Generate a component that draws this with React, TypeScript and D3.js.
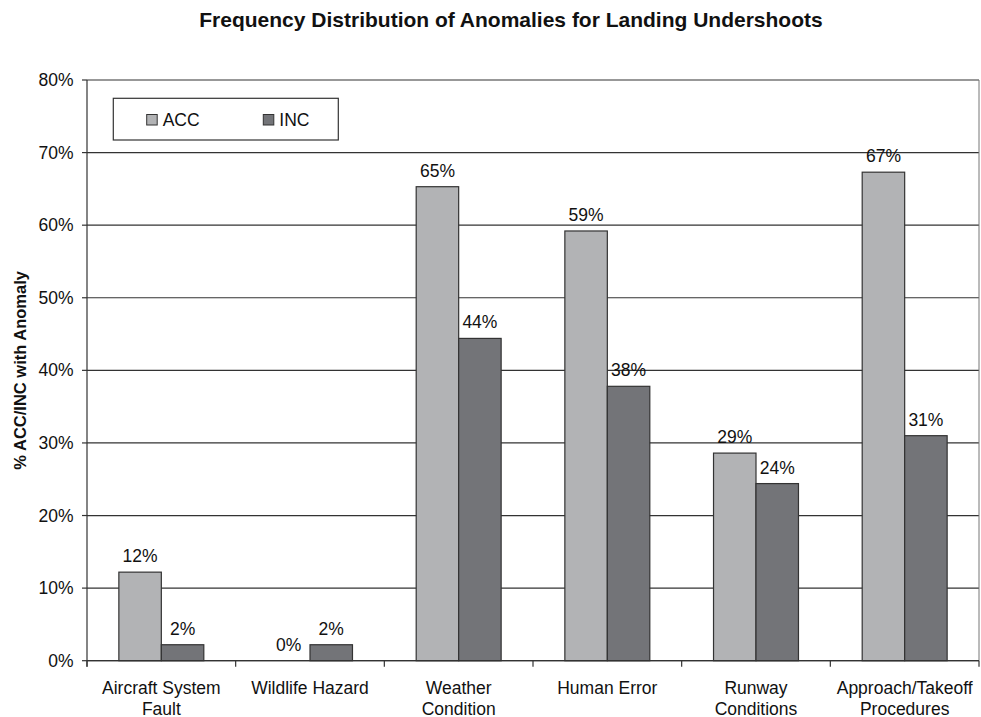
import React from "react";
import * as d3 from "d3";

const categories: string[][] = [
  ["Aircraft System", "Fault"],
  ["Wildlife Hazard"],
  ["Weather", "Condition"],
  ["Human Error"],
  ["Runway", "Conditions"],
  ["Approach/Takeoff", "Procedures"],
];
const seriesNames = ["ACC", "INC"];
const accValues = [12.2, 0, 65.3, 59.2, 28.6, 67.3];
const incValues = [2.2, 2.2, 44.4, 37.8, 24.4, 31.0];
const yTicks = [0, 10, 20, 30, 40, 50, 60, 70, 80];

const W = 981;
const H = 717;
const FONT = "'Liberation Sans', Arial, Helvetica, sans-serif";
const COLORS: Record<string, string> = { ACC: "#b2b3b5", INC: "#737478" };

export default function App() {
  const left = 87;
  const right = 979;
  const top = 80;
  const bottom = 660.7;

  const keys = categories.map((c) => c.join(" "));
  const x0 = d3.scaleBand<string>().domain(keys).range([left, right]).padding(0);
  const x1 = d3
    .scaleBand<string>()
    .domain(seriesNames)
    .range([0, x0.bandwidth()])
    .paddingInner(0)
    .paddingOuter(0.75);
  const y = d3.scaleLinear().domain([0, 80]).range([bottom, top]);

  const series = [
    { name: "ACC", values: accValues },
    { name: "INC", values: incValues },
  ];

  return (
    <svg
      width={W}
      height={H}
      style={{ position: "absolute", left: 0, top: 0, background: "#fff" }}
      fontFamily={FONT}
    >
      <rect x={0} y={0} width={W} height={H} fill="#fff" />
      <text
        x={511}
        y={27}
        textAnchor="middle"
        fontSize={21}
        fontWeight="bold"
        fill="#111"
      >
        Frequency Distribution of Anomalies for Landing Undershoots
      </text>

      {/* gridlines */}
      {yTicks.map((t) => (
        <line
          key={"g" + t}
          x1={left}
          x2={right}
          y1={y(t)}
          y2={y(t)}
          stroke="#333"
          strokeWidth={1.2}
        />
      ))}
      {/* plot frame */}
      <line x1={right} x2={right} y1={top} y2={bottom} stroke="#777" strokeWidth={1} />
      <line x1={left} x2={left} y1={top} y2={bottom + 6} stroke="#333" strokeWidth={1.2} />

      {/* y ticks and labels */}
      {yTicks.map((t) => (
        <g key={"t" + t}>
          <line x1={left - 5} x2={left} y1={y(t)} y2={y(t)} stroke="#333" strokeWidth={1.2} />
          <text
            x={73.5}
            y={y(t) + 6}
            textAnchor="end"
            fontSize={17.5}
            fill="#111"
          >
            {t}%
          </text>
        </g>
      ))}

      {/* x ticks */}
      {keys.map((k, i) => (
        <line
          key={"xt" + i}
          x1={x0(k)!}
          x2={x0(k)!}
          y1={bottom}
          y2={bottom + 6}
          stroke="#333"
          strokeWidth={1.2}
        />
      ))}
      <line x1={right} x2={right} y1={bottom} y2={bottom + 6} stroke="#333" strokeWidth={1.2} />

      {/* bars */}
      {series.map((s) =>
        s.values.map((v, i) => {
          const bx = x0(keys[i])! + x1(s.name)!;
          const by = y(v);
          const bh = y(0) - by;
          return (
            <g key={s.name + i}>
              {v > 0 && (
                <rect
                  x={bx}
                  y={by}
                  width={x1.bandwidth()}
                  height={bh}
                  fill={COLORS[s.name]}
                  stroke="#333"
                  strokeWidth={1.2}
                />
              )}
              <text
                x={bx + x1.bandwidth() / 2}
                y={by - 10}
                textAnchor="middle"
                fontSize={17.5}
                fill="#111"
              >
                {Math.round(v)}%
              </text>
            </g>
          );
        })
      )}

      {/* x axis line */}
      <line x1={left} x2={right} y1={bottom} y2={bottom} stroke="#333" strokeWidth={1.2} />

      {/* category labels */}
      {categories.map((lines, i) => {
        const cx = x0(keys[i])! + x0.bandwidth() / 2;
        return (
          <text key={"c" + i} textAnchor="middle" fontSize={17.5} fill="#111">
            {lines.map((ln, j) => (
              <tspan key={j} x={cx} y={693.5 + j * 21}>
                {ln}
              </tspan>
            ))}
          </text>
        );
      })}

      {/* y axis title */}
      <text
        transform={`translate(25.5, ${(top + bottom) / 2}) rotate(-90)`}
        textAnchor="middle"
        fontSize={16.5}
        fontWeight="bold"
        fill="#111"
      >
        % ACC/INC with Anomaly
      </text>

      {/* legend */}
      <rect x={113.3} y={98.3} width={225} height={41.7} fill="#fff" stroke="#333" strokeWidth={1.2} />
      {seriesNames.map((n, i) => {
        const lx = 146.7 + i * 116.6;
        return (
          <g key={"l" + n}>
            <rect x={lx} y={114.5} width={10.5} height={10.5} fill={COLORS[n]} stroke="#333" strokeWidth={1} />
            <text x={lx + 16} y={125.7} fontSize={17.5} fill="#111">
              {n}
            </text>
          </g>
        );
      })}
    </svg>
  );
}
